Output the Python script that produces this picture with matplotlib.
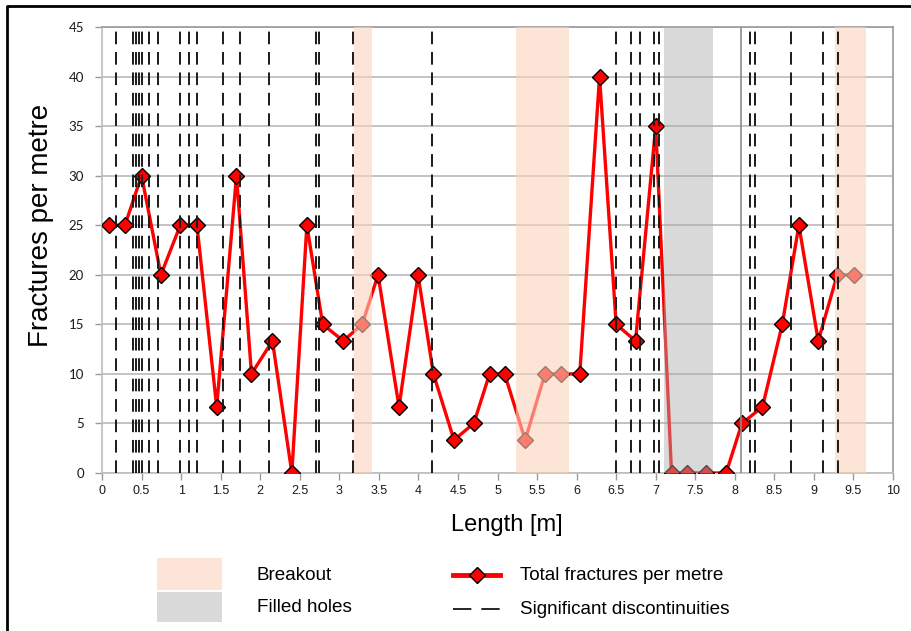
import matplotlib
matplotlib.use("Agg")
import matplotlib.pyplot as plt
from matplotlib import font_manager
from matplotlib.lines import Line2D
from matplotlib.patches import Rectangle

# ---------------- data ----------------
length_m = [0.09, 0.29, 0.50, 0.745, 0.99, 1.20, 1.45, 1.70, 1.89, 2.155,
            2.40, 2.59, 2.79, 3.05, 3.29, 3.49, 3.755, 3.995, 4.19, 4.45,
            4.70, 4.90, 5.09, 5.35, 5.60, 5.80, 6.04, 6.29, 6.50, 6.745,
            7.00, 7.20, 7.40, 7.64, 7.89, 8.09, 8.35, 8.60, 8.81, 9.055,
            9.295, 9.51]
fractures = [25, 25, 30, 20, 25, 25, 6.67, 30, 10, 13.33,
             0, 25, 15, 13.33, 15, 20, 6.67, 20, 10, 3.33,
             5, 10, 10, 3.33, 10, 10, 10, 40, 15, 13.33,
             35, 0, 0, 0, 0, 5, 6.67, 15, 25, 13.33,
             20, 20]
discontinuities = [0.177, 0.388, 0.426, 0.464, 0.502, 0.598, 0.712, 0.986, 1.10,
                   1.206, 1.526, 1.745, 2.11, 2.70, 2.748, 3.177, 4.17, 6.50,
                   6.69, 6.80, 6.98, 7.04, 8.19, 8.26, 8.71, 9.11, 9.30]
solid_marker_lines = [8.08]
breakout_zones = [(3.18, 3.41), (5.24, 5.90), (9.27, 9.66)]
filled_zones = [(7.11, 7.73)]
x_ticks = [i * 0.5 for i in range(21)]
x_tick_labels = ["0", "0.5", "1", "1.5", "2", "2.5", "3", "3.5", "4", "4.5", "5",
                 "5.5", "6", "6.5", "7", "7.5", "8", "8.5", "9", "9.5", "10"]
y_ticks = list(range(0, 46, 5))

# ---------------- fonts ----------------
avail = {f.name for f in font_manager.fontManager.ttflist}
def pick(*names):
    for n in names:
        if n in avail:
            return n
    return "DejaVu Sans"

F_MAIN = pick("Liberation Sans", "Arial", "DejaVu Sans")
F_NARROW = pick("Liberation Sans Narrow", "Liberation Sans", "DejaVu Sans")
F_YTICK = pick("Lato", "Open Sans", "Liberation Sans")

W, H = 911, 631
fig = plt.figure(figsize=(W / 100, H / 100), dpi=100)
fig.patch.set_facecolor("white")

L, R, T, B = 102, 893, 27, 473
ax = fig.add_axes([L / W, 1 - B / H, (R - L) / W, (B - T) / H])
ax.set_xlim(0, 10)
ax.set_ylim(0, 45)

# grid
ax.set_axisbelow(True)
ax.yaxis.grid(True, color="#BEBEBE", lw=1.3, zorder=0)
for s in ax.spines.values():
    s.set_color("#9A9A9A")
    s.set_linewidth(1.2)
ax.spines["left"].set_color("#BEBEBE")
ax.spines["bottom"].set_color("#BEBEBE")

# main series
ax.plot(length_m, fractures, color="red", lw=2.4, marker="D", markersize=7.8,
        markerfacecolor="red", markeredgecolor="black", markeredgewidth=1.0,
        zorder=3)

# zones overlaid (semi-transparent, fading the series beneath)
for a, b in breakout_zones:
    ax.axvspan(a, b, color=(250 / 255, 210 / 255, 187 / 255), alpha=0.6, lw=0, zorder=4)
for a, b in filled_zones:
    ax.axvspan(a, b, color=(171 / 255, 171 / 255, 171 / 255), alpha=0.45, lw=0, zorder=4)

# discontinuities
for xv in discontinuities:
    ax.axvline(xv, color="#1A1A1A", lw=1.4, ls=(0, (6.5, 4)), zorder=5)
for xv in solid_marker_lines:
    ax.axvline(xv, color="#8C8C8C", lw=1.2, zorder=5)

# ticks
ax.set_xticks(x_ticks)
ax.set_xticklabels(x_tick_labels, fontfamily=F_NARROW, fontsize=9)
ax.set_yticks(y_ticks)
ax.set_yticklabels([str(v) for v in y_ticks], fontfamily=F_YTICK, fontsize=9.5)
ax.tick_params(axis="both", direction="out", length=5, width=1, color="#9A9A9A",
               labelcolor="#1A1A1A")
ax.tick_params(axis="x", pad=4)
ax.tick_params(axis="y", pad=8)

# axis labels
fig.text(507 / W, 1 - 525 / H, "Length [m]", ha="center", va="center",
         fontsize=17, fontfamily=F_MAIN)
fig.text(41 / W, 1 - 225 / H, "Fractures per metre", ha="center", va="center",
         rotation=90, fontsize=20, fontfamily=F_MAIN)

# legend (drawn manually)
def fx(px):
    return px / W

def fy(py):
    return 1 - py / H

fig.patches.append(Rectangle((fx(157), fy(590)), (222 - 157) / W, (590 - 558) / H,
                             transform=fig.transFigure, facecolor="#FCE4D6",
                             edgecolor="none"))
fig.patches.append(Rectangle((fx(157), fy(622)), (222 - 157) / W, (622 - 592) / H,
                             transform=fig.transFigure, facecolor="#D9D9D9",
                             edgecolor="none"))
LEG_FS = 13.6
fig.text(fx(257), fy(575), "Breakout", ha="left", va="center", fontsize=LEG_FS,
         fontfamily=F_MAIN)
fig.text(fx(257), fy(608), "Filled holes", ha="left", va="center", fontsize=LEG_FS,
         fontfamily=F_MAIN)
fig.lines.append(Line2D([fx(453), fx(500)], [fy(575), fy(575)],
                        transform=fig.transFigure, color="red", lw=3.5))
fig.lines.append(Line2D([fx(476.5)], [fy(575)], transform=fig.transFigure,
                        marker="D", markersize=8, markerfacecolor="red",
                        markeredgecolor="black", markeredgewidth=1.0, lw=0))
fig.text(fx(520), fy(575), "Total fractures per metre", ha="left", va="center",
         fontsize=LEG_FS, fontfamily=F_MAIN)
fig.lines.append(Line2D([fx(453), fx(500)], [fy(609), fy(609)],
                        transform=fig.transFigure, color="black", lw=1.2,
                        ls=(0, (11, 6))))
fig.text(fx(520), fy(609), "Significant discontinuities", ha="left", va="center",
         fontsize=LEG_FS, fontfamily=F_MAIN)

# outer frame (left and top)
fig.lines.append(Line2D([fx(6.5), fx(6.5), 1.0], [0.0, fy(5.5), fy(5.5)],
                        transform=fig.transFigure, color="black", lw=2.0))

fig.savefig("out.png", dpi=100, facecolor="white")
